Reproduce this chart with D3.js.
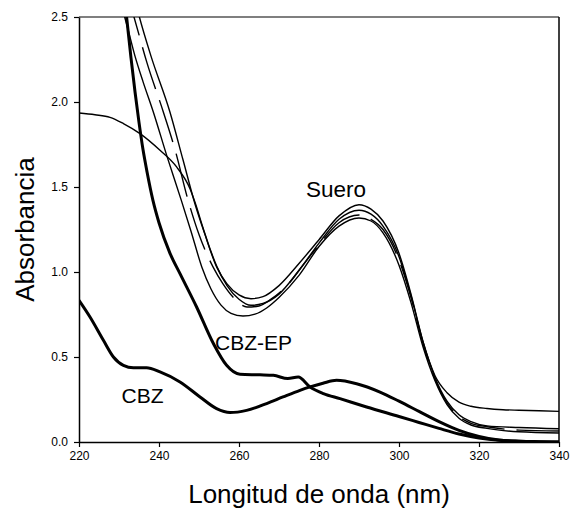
<!DOCTYPE html>
<html>
<head>
<meta charset="utf-8">
<script src="https://cdn.jsdelivr.net/npm/d3@7"></script>
<style>
  html, body { margin: 0; padding: 0; background: #fff; }
  svg { display: block; }
  text { font-family: "Liberation Sans", Arial, sans-serif; fill: #000; }
</style>
</head>
<body>
<svg id="chart" width="570" height="509"></svg>
<script>
// ---- Data (wavelength in nm, absorbance) ----
const xTicks = [220, 240, 260, 280, 300, 320, 340];
const yTicks = [0.0, 0.5, 1.0, 1.5, 2.0, 2.5];

const cbzX = [220,222.75,226.1,228.6,231.1,233.6,236.9,240.25,245.25,250.25,254.4,257.75,261.9,266.9,271,275.25,277.75,281,284.4,289.4,295.25,300,305,310,315,320,325,330,335,340];
const cbzY = [0.833,0.735,0.598,0.5,0.451,0.437,0.437,0.412,0.353,0.265,0.196,0.173,0.186,0.226,0.265,0.304,0.324,0.346,0.363,0.343,0.294,0.24,0.18,0.12,0.068,0.032,0.012,0.005,0.002,0];

const cbzEpX = [229,231.9,233,234,235,236,237,238.5,240,242.75,245.25,249.4,253.6,256.9,260.25,265.25,268.6,272.2,274.8,277.75,281.1,285.25,291.9,300,305,310,315,320,325,330,340];
const cbzEpY = [3.1,2.5,2.26,2.06,1.88,1.72,1.59,1.42,1.29,1.11,0.99,0.794,0.579,0.451,0.398,0.395,0.392,0.373,0.382,0.324,0.285,0.255,0.206,0.15,0.115,0.08,0.047,0.024,0.01,0.004,0];

const suero1X = [230,232,234,236,238.6,242,245.6,248,250.7,253,255.5,258,261,264,267,270,275,280,285,290,293,296,300,303,306,309,312,315,318,322,330,340];
const suero1Y = [2.62,2.45,2.27,2.12,1.94,1.68,1.42,1.24,1.03,0.90,0.805,0.757,0.741,0.752,0.79,0.85,0.98,1.15,1.27,1.318,1.30,1.23,1.04,0.82,0.56,0.36,0.22,0.14,0.10,0.08,0.06,0.053];

const suero2X = [232,233.75,237,241.1,244,247.3,250,253.5,256,259,262,265,268,272,276,280,285,290,293,296,300,303,306,309,312,315,318,322,330,340];
const suero2Y = [2.64,2.5,2.23,1.94,1.72,1.42,1.22,1.03,0.93,0.84,0.794,0.80,0.84,0.92,1.04,1.16,1.29,1.335,1.31,1.25,1.07,0.85,0.58,0.37,0.23,0.15,0.11,0.09,0.07,0.065];

const suero3X = [234,235.1,238,242.75,246,249,251.5,254.4,257,260,263,266,270,275,280,285,290,293,296,300,303,306,309,312,315,318,322,330,340];
const suero3Y = [2.6,2.5,2.27,1.94,1.66,1.40,1.22,1.03,0.93,0.865,0.843,0.855,0.92,1.05,1.19,1.33,1.396,1.37,1.30,1.11,0.87,0.59,0.38,0.24,0.16,0.12,0.095,0.085,0.078];

const suero4X = [220,224,227.75,231.1,235.25,240.25,244.4,247.75,249,251,253,254.5,257,260,263,266,270,275,280,285,290,293,296,300,303,306,309,312,315,318,322,326,330,335,340];
const suero4Y = [1.935,1.925,1.91,1.873,1.814,1.716,1.618,1.49,1.41,1.26,1.12,1.03,0.92,0.84,0.804,0.815,0.87,1.01,1.17,1.31,1.363,1.34,1.27,1.09,0.86,0.59,0.39,0.29,0.235,0.21,0.197,0.19,0.187,0.184,0.18];

const labels = [
  { text: "Suero", x: 306, y: 196.5, size: 22.5 },
  { text: "CBZ-EP", x: 215, y: 350, size: 21 },
  { text: "CBZ", x: 121.5, y: 402.5, size: 21 }
];

// ---- Layout ----
const margin = { left: 79, right: 11, top: 17, bottom: 67 };
const W = 570, H = 509;
const svg = d3.select("#chart");
const x = d3.scaleLinear().domain([220, 340]).range([margin.left, W - margin.right]);
const y = d3.scaleLinear().domain([0, 2.5]).range([H - margin.bottom, margin.top]);

svg.append("defs").append("clipPath").attr("id", "plotclip")
  .append("rect")
  .attr("x", x(220)).attr("y", y(2.5))
  .attr("width", x(340) - x(220)).attr("height", y(0) - y(2.5));

const zip = (xs, ys) => xs.map((v, i) => [v, ys[i]]);
const line = d3.line().x(d => x(d[0])).y(d => y(d[1])).curve(d3.curveMonotoneX);

const series = [
  { data: zip(suero4X, suero4Y), w: 1.4, dash: null },
  { data: zip(suero1X, suero1Y), w: 1.4, dash: null },
  { data: zip(suero2X, suero2Y), w: 1.4, dash: "44,12" },
  { data: zip(suero3X, suero3Y), w: 1.4, dash: null },
  { data: zip(cbzEpX, cbzEpY), w: 3, dash: null },
  { data: zip(cbzX, cbzY), w: 3, dash: null }
];

const g = svg.append("g").attr("clip-path", "url(#plotclip)");
series.forEach(s => {
  g.append("path")
    .attr("d", line(s.data))
    .attr("fill", "none")
    .attr("stroke", "#000")
    .attr("stroke-width", s.w)
    .attr("stroke-linejoin", "round")
    .attr("stroke-dasharray", s.dash);
});

// ---- Axes ----
const xAxis = d3.axisBottom(x).tickValues(xTicks).tickSizeInner(5).tickSizeOuter(0).tickPadding(4).tickFormat(d3.format("d"));
const yAxis = d3.axisLeft(y).tickValues(yTicks).tickSizeInner(5).tickSizeOuter(0).tickPadding(6).tickFormat(d3.format(".1f"));

const gx = svg.append("g").attr("transform", `translate(0,${y(0)})`).call(xAxis);
const gy = svg.append("g").attr("transform", `translate(${x(220)},0)`).call(yAxis);
[gx, gy].forEach(a => {
  a.select(".domain").attr("stroke", "#000").attr("stroke-width", 1.5);
  a.selectAll(".tick line").attr("stroke", "#000").attr("stroke-width", 1.2);
  a.selectAll(".tick text").attr("font-size", 12).attr("fill", "#000")
    .attr("font-family", "Liberation Sans, Arial, sans-serif");
});

// top & right frame
svg.append("line").attr("x1", x(220)).attr("x2", x(340)).attr("y1", y(2.5)).attr("y2", y(2.5))
  .attr("stroke", "#000").attr("stroke-width", 1.2);
svg.append("line").attr("x1", x(340)).attr("x2", x(340)).attr("y1", y(2.5)).attr("y2", y(0))
  .attr("stroke", "#000").attr("stroke-width", 1.5);

// ---- Titles ----
svg.append("text")
  .attr("x", (x(220) + x(340)) / 2).attr("y", 503)
  .attr("text-anchor", "middle").attr("font-size", 26)
  .text("Longitud de onda (nm)");
svg.append("text")
  .attr("transform", `translate(33.5,${(y(0) + y(2.5)) / 2}) rotate(-90)`)
  .attr("text-anchor", "middle").attr("font-size", 26)
  .text("Absorbancia");

labels.forEach(l => {
  svg.append("text").attr("x", l.x).attr("y", l.y).attr("font-size", l.size).text(l.text);
});
</script>
</body>
</html>
